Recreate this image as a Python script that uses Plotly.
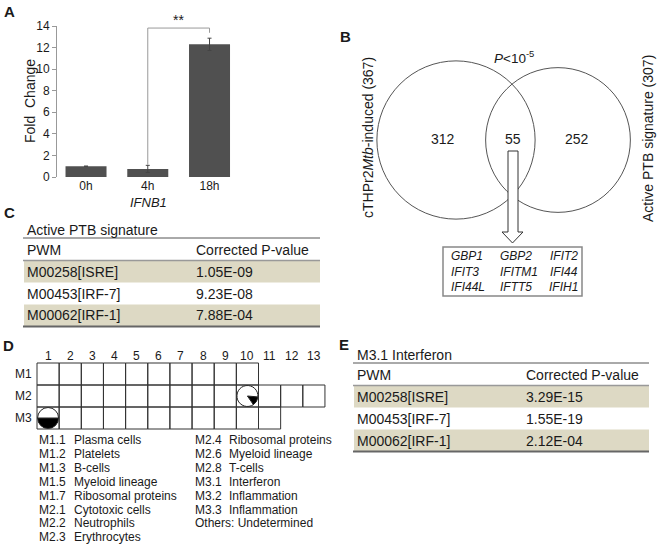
import math
import plotly.graph_objects as go

W, H = 660, 546
FONT = "Liberation Sans, Arial, sans-serif"
TXT = "#1a1a1a"

# ---------------- data ----------------
# Panel A
timepoints = ["0h", "4h", "18h"]
fold_change = [1.0, 0.75, 12.3]
fold_err = [0.0, 0.33, 0.57]
gene_a = "IFNB1"
sig_pair = [1, 2]
sig_label = "**"

# Panel B
venn_left_label = "cTHPr2<i>Mtb</i>-induced"
venn_left_size = 367
venn_right_label = "Active PTB signature"
venn_right_size = 307
venn_counts = [312, 55, 252]
venn_p = "<i>P</i><10<sup>-5</sup>"
overlap_genes = [["GBP1", "GBP2", "IFIT2"],
                 ["IFIT3", "IFITM1", "IFI44"],
                 ["IFI44L", "IFTT5", "IFIH1"]]

# Panel C
table_header = ["PWM", "Corrected P-value"]
c_title = "Active PTB signature"
c_pwm = ["M00258[ISRE]", "M00453[IRF-7]", "M00062[IRF-1]"]
c_pval = ["1.05E-09", "9.23E-08", "7.88E-04"]

# Panel D
module_rows = ["M1", "M2", "M3"]
modules_per_row = [10, 13, 11]
module_fraction = {"M3.1": 0.5, "M2.10": 0.14}
module_pie_start = {"M3.1": 90, "M2.10": 95}
legend_left_codes = ["M1.1", "M1.2", "M1.3", "M1.5", "M1.7", "M2.1", "M2.2", "M2.3"]
legend_left_names = ["Plasma cells", "Platelets", "B-cells", "Myeloid lineage",
                     "Ribosomal proteins", "Cytotoxic cells", "Neutrophils", "Erythrocytes"]
legend_right_codes = ["M2.4", "M2.6", "M2.8", "M3.1", "M3.2", "M3.3"]
legend_right_names = ["Ribosomal proteins", "Myeloid lineage", "T-cells", "Interferon",
                      "Inflammation", "Inflammation"]
legend_other = "Others: Undetermined"

# Panel E
e_title = "M3.1 Interferon"
e_pwm = ["M00258[ISRE]", "M00453[IRF-7]", "M00062[IRF-1]"]
e_pval = ["3.29E-15", "1.55E-19", "2.12E-04"]

# ---------------- helpers ----------------
def px(x):
    return x / W


def py(y):
    return 1 - y / H


shapes = []
annotations = []


def text(x, y, s, size=14, xanchor="left", yanchor="middle", color=TXT, **kw):
    annotations.append(dict(
        x=px(x), y=py(y), xref="paper", yref="paper", text=s, showarrow=False,
        xanchor=xanchor, yanchor=yanchor, font=dict(size=size, color=color, family=FONT),
        **kw))


def line(x0, y0, x1, y1, color="#444", width=1):
    shapes.append(dict(type="line", xref="paper", yref="paper",
                       x0=px(x0), y0=py(y0), x1=px(x1), y1=py(y1),
                       line=dict(color=color, width=width)))


def rect(x0, y0, x1, y1, fill="rgba(0,0,0,0)", color="#444", width=1, layer="above"):
    shapes.append(dict(type="rect", xref="paper", yref="paper",
                       x0=px(x0), y0=py(y1), x1=px(x1), y1=py(y0),
                       fillcolor=fill, line=dict(color=color, width=width), layer=layer))


def circle(cx, cy, r, color="#555", width=1):
    shapes.append(dict(type="circle", xref="paper", yref="paper",
                       x0=px(cx - r), y0=py(cy + r), x1=px(cx + r), y1=py(cy - r),
                       line=dict(color=color, width=width)))


def polygon(pts, fill="white", color="#333", width=1):
    path = "M " + " L ".join(f"{px(x):.5f},{py(y):.5f}" for x, y in pts) + " Z"
    shapes.append(dict(type="path", xref="paper", yref="paper", path=path,
                       fillcolor=fill, line=dict(color=color, width=width)))


fig = go.Figure()

# ---------------- Panel A: bar chart ----------------
x_left_px, cat_px = 57, 61.75
x_lo = -0.47
x_hi = 2.5
y_top_px, y_bot_px = 26, 177
fig.add_trace(go.Bar(
    x=list(range(len(timepoints))), y=fold_change, width=0.664,
    marker=dict(color="#505050", line=dict(width=0)), textposition="none",
    error_y=dict(type="data", array=fold_err, color="#444", thickness=1, width=2),
    showlegend=False, hoverinfo="skip"))
fig.update_layout(
    xaxis=dict(domain=[px(x_left_px), px(x_left_px + (x_hi - x_lo) * cat_px)],
               range=[x_lo, x_hi], tickmode="array",
               tickvals=list(range(len(timepoints))), ticktext=timepoints,
               showline=False, ticks="", showgrid=False, zeroline=False,
               tickfont=dict(size=12, color=TXT, family=FONT), automargin=False,
               anchor="y"),
    yaxis=dict(domain=[py(y_bot_px), py(y_top_px)], range=[0, 14], dtick=2,
               showline=True, linecolor="#999", linewidth=1, ticks="outside",
               ticklen=4, tickcolor="#999", showgrid=False, zeroline=False,
               tickfont=dict(size=12, color=TXT, family=FONT), automargin=False,
               anchor="x"),
)
# significance bracket
y_br = 13.81
i0, i1 = sig_pair
for seg in [(i0, fold_change[i0] + fold_err[i0] + 0.05, i0, y_br),
            (i0, y_br, i1, y_br),
            (i1, y_br, i1, fold_change[i1] + fold_err[i1] + 0.5)]:
    shapes.append(dict(type="line", xref="x", yref="y", x0=seg[0], y0=seg[1],
                       x1=seg[2], y1=seg[3], line=dict(color="#999", width=1)))
annotations.append(dict(x=(i0 + i1) / 2, y=y_br, xref="x", yref="y", text=sig_label,
                        showarrow=False, yanchor="bottom", yshift=-2,
                        font=dict(size=14, color=TXT, family=FONT)))
text(30, 101, "Fold\u00a0\u00a0Change", size=14, xanchor="center", textangle=-90)
text(148, 202, f"<i>{gene_a}</i>", size=13, xanchor="center")
text(9, 11, "<b>A</b>", size=15, xanchor="center")

# ---------------- Panel B: Venn ----------------
k = 4.13
r_left = k * math.sqrt(venn_left_size)
r_right = k * math.sqrt(venn_right_size)
cl, cr, cy_v = 456, 558, 140
circle(cl, cy_v, r_left)
circle(cr, cy_v, r_right)
for xpos, val in zip([443, 513, 577], venn_counts):
    text(xpos, 139, str(val), size=14, xanchor="center")
text(514, 57, venn_p, size=13.5, xanchor="center")
text(367.5, 137.5, f"{venn_left_label} ({venn_left_size})", size=14,
     xanchor="center", textangle=-90)
text(647.5, 138.5, f"{venn_right_label} ({venn_right_size})", size=14,
     xanchor="center", textangle=-90)
text(345, 37, "<b>B</b>", size=15, xanchor="center")
polygon([(508, 151), (518, 151), (518, 232), (523, 232), (512.5, 243),
         (502, 232), (508, 232)])
rect(443, 247, 582, 296, color="#888", width=1.5)
for ri, row in enumerate(overlap_genes):
    yy = 256 + 15.5 * ri
    text(449, yy, f"<i>{row[0]}</i>", size=12)
    text(498, yy, f"<i>{row[1]}</i>", size=12)
    text(580, yy, f"<i>{row[2]}</i>", size=12, xanchor="right")


# ---------------- tables C and E ----------------
SHADE = "#DDD9C4"


def draw_table(left, right, top, title, pwm, pval):
    text(left + 2, top - 8, title, size=14)
    head_bottom = top + 22.5
    row_h = 22
    for i, (a, b) in enumerate(zip(pwm, pval)):
        y0 = head_bottom + i * row_h
        if i % 2 == 0:
            rect(left + 1, y0, right, y0 + row_h, fill=SHADE, width=0, layer="below")
        text(left + 2, y0 + row_h / 2, a, size=14)
        text(left + 171, y0 + row_h / 2, b, size=14)
    text(left + 2, top + 12, table_header[0], size=14)
    text(left + 171, top + 12, table_header[1], size=14)
    line(left, top, right, top, "#555", 1)
    line(left, head_bottom, right, head_bottom, "#999", 1.5)
    bottom = head_bottom + len(pwm) * row_h
    line(left, bottom, right, bottom, "#666", 2)


draw_table(23, 320, 238, c_title, c_pwm, c_pval)
text(9, 213, "<b>C</b>", size=15, xanchor="center")
draw_table(353, 649, 363, e_title, e_pwm, e_pval)
text(344, 344, "<b>E</b>", size=15, xanchor="center")

# ---------------- Panel D: module grid ----------------
gx0, gy0, cw, ch = 37, 363, 22.15, 22
for r, n in enumerate(modules_per_row):
    for c in range(n):
        rect(gx0 + c * cw, gy0 + r * ch, gx0 + (c + 1) * cw, gy0 + (r + 1) * ch,
             color="#333", width=1)
    text(34, gy0 + (r + 0.5) * ch, module_rows[r], size=12, xanchor="right")
for c in range(max(modules_per_row)):
    text(gx0 + (c + 0.5) * cw, 356, str(c + 1), size=12, xanchor="center")
for key, frac in module_fraction.items():
    r = int(key[1]) - 1
    c = int(key.split(".")[1]) - 1
    cx = gx0 + (c + 0.5) * cw
    cyy = gy0 + (r + 0.5) * ch
    rad = 10.5
    fig.add_trace(go.Pie(
        values=[frac, 1 - frac], sort=False, direction="clockwise",
        rotation=module_pie_start[key], textinfo="none", textposition="none",
        hoverinfo="skip", showlegend=False,
        marker=dict(colors=["#000000", "#ffffff"], line=dict(color="#222", width=1)),
        domain=dict(x=[px(cx - rad), px(cx + rad)], y=[py(cyy + rad), py(cyy - rad)])))
for i, (code, name) in enumerate(zip(legend_left_codes, legend_left_names)):
    yy = 440 + 13.9 * i
    text(37, yy, code, size=12)
    text(72, yy, name, size=12)
for i, (code, name) in enumerate(zip(legend_right_codes, legend_right_names)):
    yy = 440 + 13.9 * i
    text(193, yy, code, size=12)
    text(227, yy, name, size=12)
text(193, 440 + 13.9 * len(legend_right_codes), legend_other, size=12)
text(8, 345, "<b>D</b>", size=15, xanchor="center")

fig.update_layout(
    width=W, height=H, autosize=False,
    margin=dict(l=0, r=0, t=0, b=0, pad=0),
    paper_bgcolor="white", plot_bgcolor="white",
    font=dict(family=FONT, color=TXT),
    shapes=shapes, annotations=annotations,
    bargap=0.3,
)
fig.write_html("out.html", config={"displayModeBar": False},
               post_script="document.body.style.margin='0';document.body.style.overflow='hidden';")
